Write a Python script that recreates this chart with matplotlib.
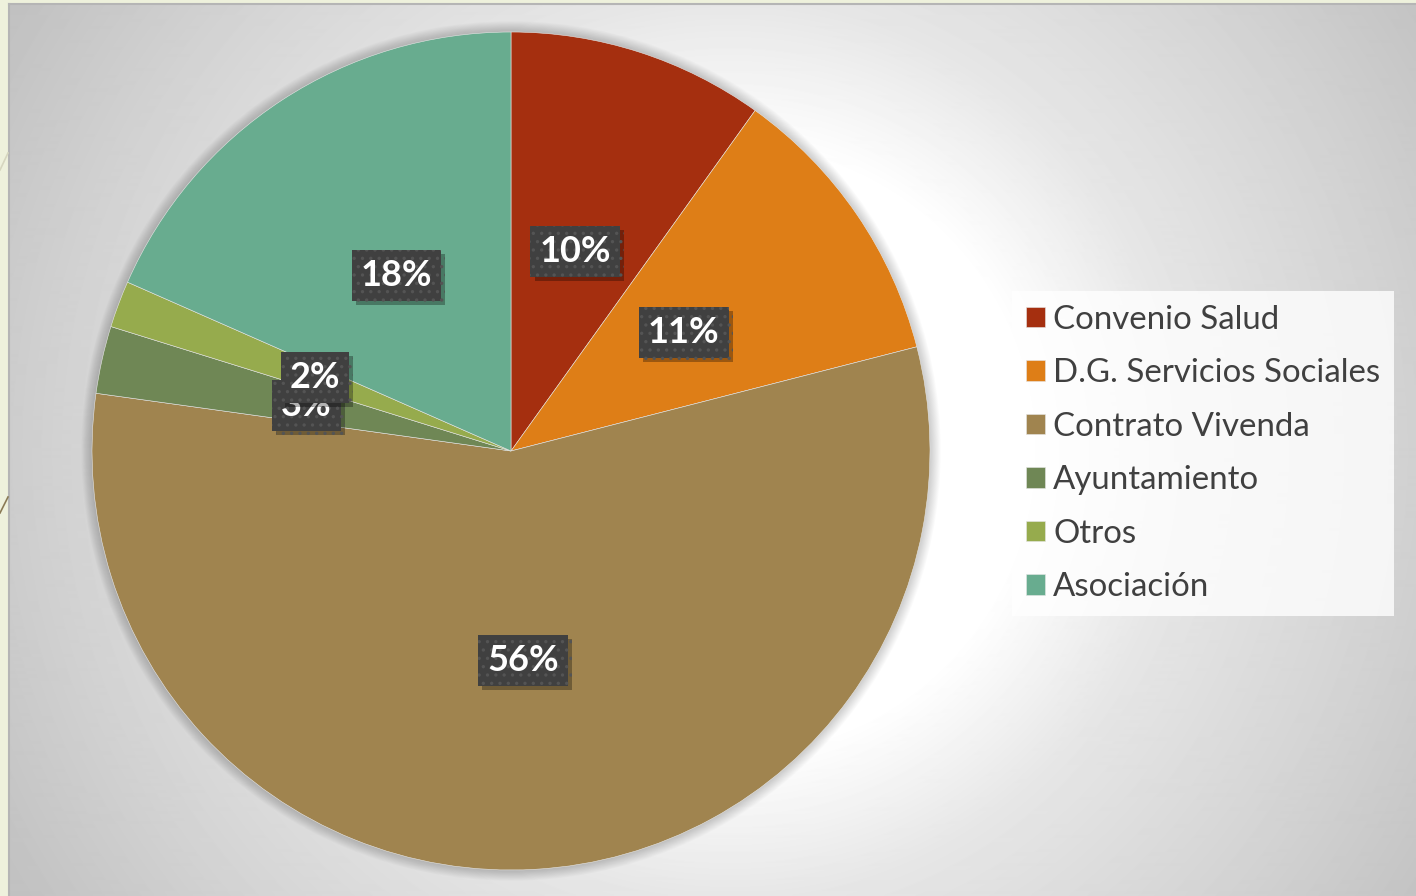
import numpy as np
import matplotlib
matplotlib.use('Agg')
import matplotlib.pyplot as plt
from matplotlib.patches import Circle
from matplotlib.lines import Line2D
import matplotlib.patheffects as pe

# ---- data ----
categories = ['Convenio Salud', 'D.G. Servicios Sociales', 'Contrato Vivenda',
              'Ayuntamiento', 'Otros', 'Asociación']
values = [9.9, 11.1, 56.2, 2.6, 1.8, 18.4]
colors = ['#A52F0F', '#DE7E17', '#A0844F', '#6F8755', '#96AB4D', '#68AC8F']

W, H = 1416, 896
fig = plt.figure(figsize=(W / 100, H / 100), dpi=100)
fig.patch.set_facecolor('#EEF1DC')

# ---- background (radial gray gradient) ----
x0, y0 = 9, 4   # chart area starts here (px from left / top)
bg = fig.add_axes([x0 / W, 0, (W - x0) / W, (H - y0) / H])
bg.set_axis_off()
yy, xx = np.mgrid[y0:H, x0:W]
r = np.hypot(xx - 730, yy - 450)
grad = np.interp(r, [0, 300, 450, 650, 830, 1000], [255, 255, 230, 212, 194, 185])
bg.imshow(grad, cmap='gray', vmin=0, vmax=255, aspect='auto',
          extent=[0, 1, 0, 1], interpolation='bilinear', zorder=0)
bg.set_xlim(0, 1)
bg.set_ylim(0, 1)

# border lines and decorative strokes on the slide strip
fig.add_artist(Line2D([x0 / W, x0 / W], [0, 1 - y0 / H], color='#b5b5b5', lw=1.5))
fig.add_artist(Line2D([x0 / W, 1], [1 - y0 / H, 1 - y0 / H], color='#b5b5b5', lw=1.5))
fig.add_artist(Line2D([0, 8 / W], [1 - 170 / H, 1 - 153 / H], color='#d6d6bf', lw=1.2))
fig.add_artist(Line2D([0, 8 / W], [1 - 513 / H, 1 - 497 / H], color='#8a7a55', lw=1.2))

# ---- pie ----
R = 419
cx, cy = 511, 451
ax = fig.add_axes([(cx - R) / W, (H - cy - R) / H, 2 * R / W, 2 * R / H])
ax.set_axis_off()

# soft shadow halo around the pie
for i in range(1, 13):
    ax.add_patch(Circle((0, 0), 1 + i * 0.9 / R, facecolor='k', edgecolor='none',
                        alpha=0.017, zorder=0, clip_on=False))

wedges, texts, autotexts = ax.pie(
    values, colors=colors, startangle=90, counterclock=False, radius=1,
    autopct='%1.0f%%', pctdistance=0.5,
    wedgeprops=dict(linewidth=0.4, edgecolor='#e6e6e6'),
)
for w in wedges:
    w.set_zorder(2)
ax.set_xlim(-1, 1)
ax.set_ylim(-1, 1)
ax.set_aspect('equal', adjustable='box')

plt.rcParams['hatch.linewidth'] = 1.2
for t in autotexts:
    t.set_fontfamily('Lato')
    t.set_fontweight('bold')
    t.set_fontsize(26)
    t.set_color('white')
    t.set_zorder(5)
    t.set_bbox(dict(boxstyle='square,pad=0.25', facecolor='#404040',
                    edgecolor='#545454', linewidth=0, hatch='..'))
    t.get_bbox_patch().set_path_effects([
        pe.SimplePatchShadow(offset=(3, -3), shadow_rgbFace='black', alpha=0.3),
        pe.Normal()])

# ---- legend ----
leg = fig.legend(wedges, categories, loc='upper left',
                 bbox_to_anchor=(1012 / W, 1 - 291 / H), bbox_transform=fig.transFigure,
                 frameon=True, fancybox=False, borderaxespad=0,
                 handlelength=0.58, handleheight=0.58, handletextpad=0.25,
                 labelspacing=0.71, borderpad=0.42,
                 labelcolor='#404040', prop={'family': 'Lato', 'size': 23.8})
frame = leg.get_frame()
frame.set_facecolor((1, 1, 1, 0.45))
frame.set_edgecolor('none')
frame.set_linewidth(0)

fig.savefig('out.png', dpi=100, facecolor=fig.get_facecolor())
